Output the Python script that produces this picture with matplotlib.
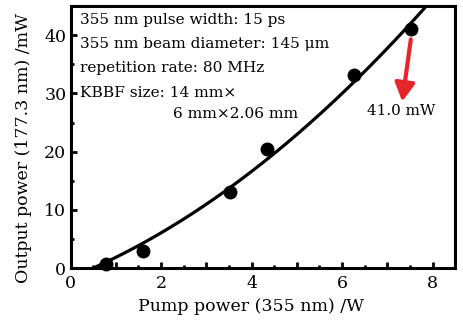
import numpy as np
import matplotlib
matplotlib.use("Agg")
import matplotlib.pyplot as plt
from matplotlib.ticker import MultipleLocator, FuncFormatter

# Measured output power vs pump power
pump_w = [0.78, 1.61, 3.52, 4.35, 6.26, 7.52]
output_mw = [0.7, 3.0, 13.0, 20.4, 33.2, 41.0]

# Quadratic fit above threshold: P = a*(x - x0)^2 + b*(x - x0)
fit_threshold = 0.5
fit_a = 0.355
fit_b = 3.5

info_lines = [
    "355 nm pulse width: 15 ps",
    "355 nm beam diameter: 145 \u03bcm",
    "repetition rate: 80 MHz",
    "KBBF size: 14 mm\u00d7",
]
info_cont = "6 mm\u00d72.06 mm"
peak_label = "41.0 mW"

plt.rcParams['font.family'] = ['DejaVu Serif']
W, H = 464, 323
fig = plt.figure(figsize=(W / 100, H / 100), dpi=100)
ax = fig.add_axes([0.152, 0.170, 0.829, 0.811])

xf = np.linspace(fit_threshold, 8.5, 300)
u = xf - fit_threshold
ax.plot(xf, fit_a * u**2 + fit_b * u, color='black', lw=2.3, solid_capstyle='butt')
ax.plot(pump_w, output_mw, 'o', color='black', ms=9, clip_on=False)

ax.set_xlim(0, 8.5)
ax.set_ylim(0, 45)
ax.xaxis.set_major_locator(MultipleLocator(1))
ax.xaxis.set_minor_locator(MultipleLocator(0.5))
ax.xaxis.set_major_formatter(FuncFormatter(lambda v, p: f"{int(round(v))}" if round(v) % 2 == 0 else ""))
ax.yaxis.set_major_locator(MultipleLocator(10))
ax.yaxis.set_minor_locator(MultipleLocator(5))
ax.tick_params(which='both', direction='in', width=2)
ax.tick_params(which='major', length=4.5, labelsize=12.5)
ax.tick_params(which='minor', length=2.5)
ax.tick_params(axis='x', pad=5)
ax.tick_params(axis='y', pad=3)
for s in ax.spines.values():
    s.set_linewidth(2.2)

ax.set_xlabel("Pump power (355 nm) /W", fontsize=12.5)
ax.set_ylabel("Output power (177.3 nm) /mW", fontsize=12.5)
ax.xaxis.set_label_coords(0.47, -0.115)
ax.yaxis.set_label_coords(-0.10, 0.46)

# Experimental parameters, placed in figure pixels measured from the top-left
for i, line in enumerate(info_lines):
    fig.text(80 / W, 1 - (20 + 24.2 * i) / H, line, fontsize=11.1, va='center', ha='left')
fig.text(173 / W, 1 - 114 / H, info_cont, fontsize=11.1, va='center', ha='left')

ax.annotate("", xy=(7.33, 28.6), xytext=(7.52, 39.3),
            arrowprops=dict(arrowstyle='-|>,head_length=1.1,head_width=0.6',
                            color='#e8242b', lw=3, shrinkA=0, shrinkB=0))
ax.text(7.30, 27.0, peak_label, fontsize=10.9, ha='center', va='center')

fig.savefig("out.png", dpi=100)
